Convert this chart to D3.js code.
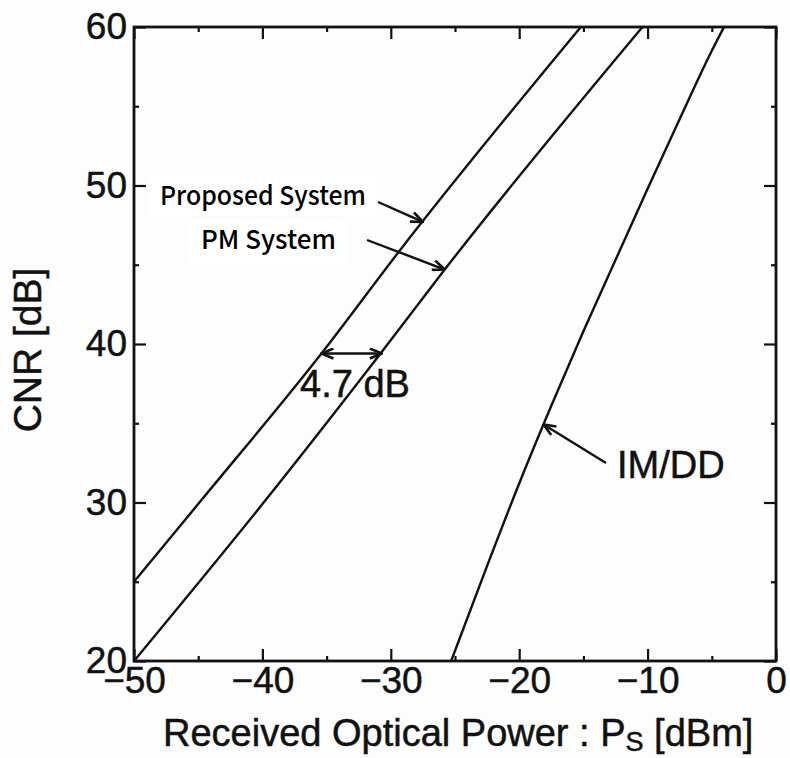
<!DOCTYPE html>
<html>
<head>
<meta charset="utf-8">
<script src="https://cdn.jsdelivr.net/npm/d3@7"></script>
<style>
  html, body { margin: 0; padding: 0; background: #fdfdfd; }
  svg { display: block; }
  .tick text, .lbl { font-family: "Liberation Sans", Arial, sans-serif; fill: #111; stroke: #111; stroke-width: 0.5px; }
</style>
</head>
<body>
<svg id="chart" width="790" height="758"></svg>
<script>
// Received optical power [dBm] vs CNR [dB] for the three receivers
const proposedPower = [-50, -44.7, -35.4, -29.3, -15.2];
const proposedCNR   = [25.0, 30.2, 39.4, 45.9, 60];

const pmPower = [-50, -39.7, -30.8, -25.8, -10.4];
const pmCNR   = [20, 30.2, 39.4, 44.7, 60];

const imddPower = [-25.3, -22.5, -20, -17.5, -15, -12.5, -10, -7.5, -5, -4.05];
const imddCNR   = [20, 26.0, 31.2, 36.1, 40.8, 45.3, 49.8, 54.2, 58.5, 60];

const xMajorTicks = [-50, -40, -30, -20, -10, 0];
const xMinorTicks = [-45, -35, -25, -15, -5];
const yMajorTicks = [20, 30, 40, 50, 60];
const yMinorTicks = [25, 35, 45, 55];

const gapCNR = 39.4;       // level where the power penalty is marked
const gapDB = 4.7;         // power penalty between proposed and PM systems

const svg = d3.select("#chart");
const margin = { left: 134, right: 14, top: 27, bottom: 97 };
const W = 790, H = 758;
const x = d3.scaleLinear().domain([-50, 0]).range([margin.left, W - margin.right]);
const y = d3.scaleLinear().domain([20, 60]).range([H - margin.bottom, margin.top]);

const ink = "#111";
const tickFont = 37;

// frame
svg.append("rect")
  .attr("x", x(-50)).attr("y", y(60))
  .attr("width", x(0) - x(-50)).attr("height", y(20) - y(60))
  .attr("fill", "none").attr("stroke", ink).attr("stroke-width", 2.8);

function styleAxis(g) {
  g.select(".domain").remove();
  g.selectAll(".tick line").attr("stroke", ink).attr("stroke-width", 2.2);
}

// bottom axis: major with labels, minor unlabeled, ticks pointing inward
svg.append("g").attr("transform", `translate(0,${y(20)})`)
  .call(d3.axisBottom(x).tickValues(xMajorTicks).tickSize(-12).tickSizeOuter(0).tickPadding(6))
  .call(styleAxis)
  .call(g => g.selectAll(".tick text").attr("font-size", tickFont));
svg.append("g").attr("transform", `translate(0,${y(20)})`)
  .call(d3.axisBottom(x).tickValues(xMinorTicks).tickSize(-5).tickSizeOuter(0).tickFormat(""))
  .call(styleAxis);

// top axis: mirrored ticks
svg.append("g").attr("transform", `translate(0,${y(60)})`)
  .call(d3.axisTop(x).tickValues(xMajorTicks).tickSize(-12).tickSizeOuter(0).tickFormat(""))
  .call(styleAxis);
svg.append("g").attr("transform", `translate(0,${y(60)})`)
  .call(d3.axisTop(x).tickValues(xMinorTicks).tickSize(-5).tickSizeOuter(0).tickFormat(""))
  .call(styleAxis);

// left axis
svg.append("g").attr("transform", `translate(${x(-50)},0)`)
  .call(d3.axisLeft(y).tickValues(yMajorTicks).tickSize(-12).tickSizeOuter(0).tickPadding(7))
  .call(styleAxis)
  .call(g => g.selectAll(".tick text").attr("font-size", tickFont));
svg.append("g").attr("transform", `translate(${x(-50)},0)`)
  .call(d3.axisLeft(y).tickValues(yMinorTicks).tickSize(-5).tickSizeOuter(0).tickFormat(""))
  .call(styleAxis);

// right axis
svg.append("g").attr("transform", `translate(${x(0)},0)`)
  .call(d3.axisRight(y).tickValues(yMajorTicks).tickSize(-12).tickSizeOuter(0).tickFormat(""))
  .call(styleAxis);
svg.append("g").attr("transform", `translate(${x(0)},0)`)
  .call(d3.axisRight(y).tickValues(yMinorTicks).tickSize(-5).tickSizeOuter(0).tickFormat(""))
  .call(styleAxis);

// axis titles
const title = svg.append("text").attr("class", "lbl")
  .attr("x", 163).attr("y", 746)
  .attr("font-size", 38);
title.append("tspan").text("Received Optical Power : P");
title.append("tspan").attr("font-size", 27).attr("dy", 5).text("S");
title.append("tspan").attr("dy", -5).text(" [dBm]");

svg.append("text").attr("class", "lbl")
  .attr("transform", `translate(41,${(y(20) + y(60)) / 2 + 6}) rotate(-90)`)
  .attr("text-anchor", "middle")
  .attr("font-size", 39)
  .text("CNR [dB]");

// curves
const line = d3.line().x(d => x(d[0])).y(d => y(d[1])).curve(d3.curveMonotoneX);
const series = [
  d3.zip(proposedPower, proposedCNR),
  d3.zip(pmPower, pmCNR),
  d3.zip(imddPower, imddCNR)
];
svg.append("g").selectAll("path").data(series).join("path")
  .attr("d", line)
  .attr("fill", "none").attr("stroke", ink).attr("stroke-width", 2.4);

// arrowheads
const defs = svg.append("defs");
defs.append("marker")
  .attr("id", "head").attr("viewBox", "0 0 14 12")
  .attr("refX", 13).attr("refY", 6)
  .attr("markerWidth", 14).attr("markerHeight", 12)
  .attr("markerUnits", "userSpaceOnUse")
  .attr("orient", "auto-start-reverse")
  .append("path").attr("d", "M1,1 L13,6 L1,11")
  .attr("fill", "none").attr("stroke", ink).attr("stroke-width", 2.6);

// power penalty double arrow
const gapLeft = d3.scaleLinear().domain(proposedCNR).range(proposedPower)(gapCNR);
svg.append("line")
  .attr("x1", x(gapLeft)).attr("y1", y(gapCNR))
  .attr("x2", x(gapLeft + gapDB)).attr("y2", y(gapCNR))
  .attr("stroke", ink).attr("stroke-width", 2.4)
  .attr("marker-start", "url(#head)").attr("marker-end", "url(#head)");
svg.append("text").attr("class", "lbl")
  .attr("x", 300).attr("y", 397)
  .attr("font-size", 38)
  .text(`${gapDB} dB`);

// label boxes with pointer arrows
const labelFont = "'Noto Sans CJK JP', 'Noto Sans', sans-serif";
svg.append("rect").attr("x", 148).attr("y", 174).attr("width", 228).attr("height", 42).attr("fill", "#fff");
svg.append("rect").attr("x", 190).attr("y", 220).attr("width", 160).attr("height", 44).attr("fill", "#fff");

svg.append("text")
  .attr("x", 160).attr("y", 205)
  .attr("font-family", labelFont).attr("font-weight", 500)
  .attr("font-size", 26).attr("fill", "#000")
  .attr("textLength", 206).attr("lengthAdjust", "spacingAndGlyphs")
  .text("Proposed System");
svg.append("text")
  .attr("x", 201).attr("y", 249)
  .attr("font-family", labelFont).attr("font-weight", 500)
  .attr("font-size", 26).attr("fill", "#000")
  .attr("textLength", 135).attr("lengthAdjust", "spacingAndGlyphs")
  .text("PM System");

// pointer arrows end on the curves
const proposedAt = d3.scaleLinear().domain(proposedPower).range(proposedCNR);
const pmAt = d3.scaleLinear().domain(pmPower).range(pmCNR);
const imddAt = d3.scaleLinear().domain(imddPower).range(imddCNR);
const pointers = [
  { x1: 378, y1: 202, p: -27.5, f: proposedAt },
  { x1: 367, y1: 240, p: -25.8, f: pmAt },
  { x1: 606, y1: 463, p: -18.1, f: imddAt }
];
svg.append("g").selectAll("line").data(pointers).join("line")
  .attr("x1", d => d.x1).attr("y1", d => d.y1)
  .attr("x2", d => x(d.p)).attr("y2", d => y(d.f(d.p)))
  .attr("stroke", ink).attr("stroke-width", 2.4)
  .attr("marker-end", "url(#head)");

svg.append("text").attr("class", "lbl")
  .attr("x", 617).attr("y", 478)
  .attr("font-size", 38)
  .text("IM/DD");
</script>
</body>
</html>
